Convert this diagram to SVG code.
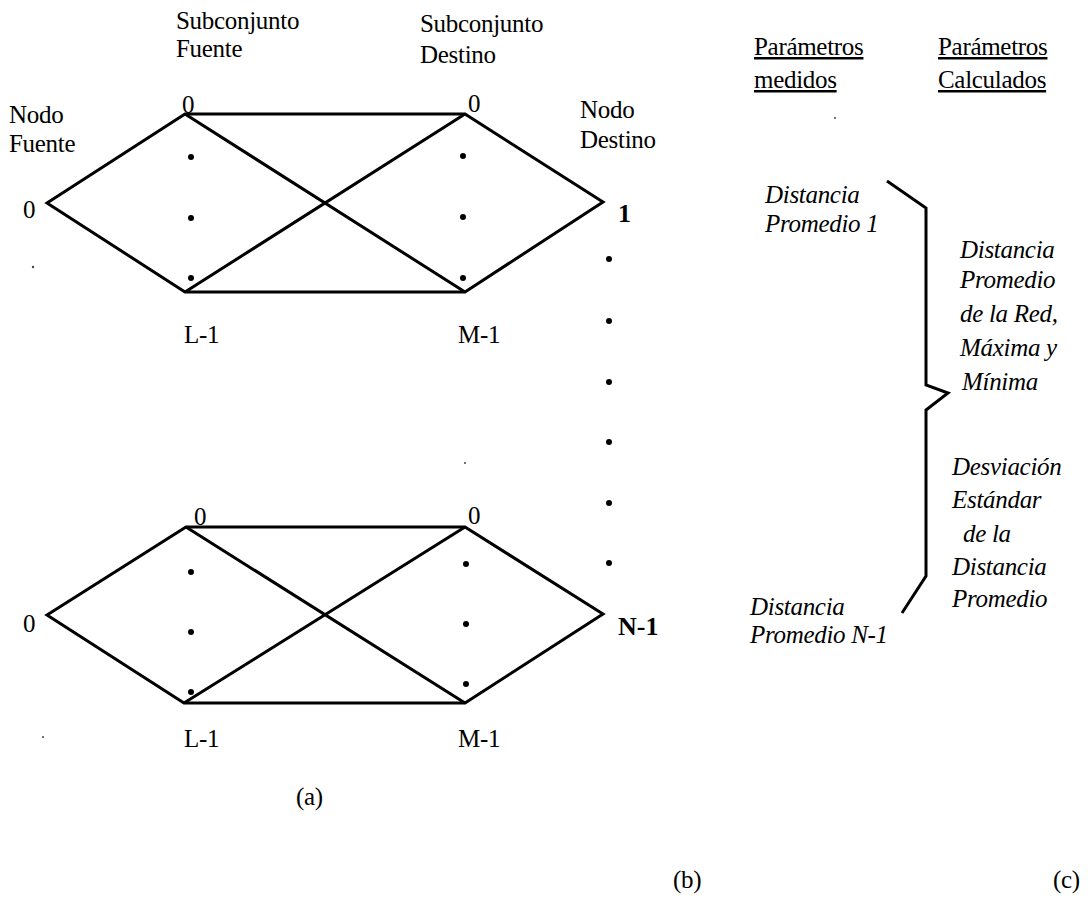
<svg xmlns="http://www.w3.org/2000/svg" width="1088" height="916" viewBox="0 0 1088 916">
  <style>
    text { font-family: "Liberation Serif", "Times New Roman", serif; font-size: 25px; letter-spacing: -0.3px; fill: #000; }
    .it { font-style: italic; }
    .bd { font-weight: bold; font-size: 26px; letter-spacing: 0; }
    .ul { text-decoration: underline; }
    .edge { stroke: #000; stroke-width: 3; fill: none; stroke-linejoin: miter; }
    .dot { fill: #000; }
    .speck { fill: #444; }
  </style>
  <rect width="1088" height="916" fill="#fff"/>

  <!-- connectors: two source/destination subnetworks -->
  <g id="connectors">
    <path class="edge" d="M47,203 L185,114 L465,114 L603,202 L465,292 L185,292 Z"/>
    <path class="edge" d="M185,114 L465,292 M185,292 L465,114"/>
    <path class="edge" d="M47,615 L186,527 L465,527 L603,614 L465,703 L184,703 Z"/>
    <path class="edge" d="M186,527 L465,703 M184,703 L465,527"/>
  </g>

  <!-- column headers -->
  <g id="hdr-src">
    <text x="176" y="29">Subconjunto</text>
    <text x="176" y="57">Fuente</text>
  </g>
  <g id="hdr-dst">
    <text x="420" y="32">Subconjunto</text>
    <text x="420" y="63">Destino</text>
  </g>
  <g id="hdr-nodo-fuente">
    <text x="9" y="123">Nodo</text>
    <text x="9" y="152">Fuente</text>
  </g>
  <g id="hdr-nodo-destino">
    <text x="580" y="118">Nodo</text>
    <text x="580" y="148">Destino</text>
  </g>

  <!-- upper network nodes -->
  <g id="net1-src"><text x="23" y="218">0</text></g>
  <g id="net1-l">
    <text x="182" y="113">0</text>
    <circle class="dot" cx="191" cy="157" r="3"/>
    <circle class="dot" cx="191" cy="218" r="3"/>
    <circle class="dot" cx="191" cy="278" r="3"/>
    <text x="184" y="343">L-1</text>
  </g>
  <g id="net1-m">
    <text x="468" y="112">0</text>
    <circle class="dot" cx="463" cy="156" r="3"/>
    <circle class="dot" cx="463" cy="217" r="3"/>
    <circle class="dot" cx="463" cy="278" r="3"/>
    <text x="458" y="343">M-1</text>
  </g>
  <g id="net1-dst"><text class="bd" x="618" y="222">1</text></g>

  <!-- dots between destination nodes -->
  <g id="dst-ellipsis">
    <circle class="dot" cx="609" cy="259" r="3"/>
    <circle class="dot" cx="609" cy="321" r="3"/>
    <circle class="dot" cx="609" cy="382" r="3"/>
    <circle class="dot" cx="609" cy="442" r="3"/>
    <circle class="dot" cx="609" cy="503" r="3"/>
    <circle class="dot" cx="609" cy="563" r="3"/>
  </g>

  <!-- lower network nodes -->
  <g id="net2-src"><text x="23" y="632">0</text></g>
  <g id="net2-l">
    <text x="194" y="525">0</text>
    <circle class="dot" cx="191" cy="572" r="3"/>
    <circle class="dot" cx="191" cy="632" r="3"/>
    <circle class="dot" cx="191" cy="692" r="3"/>
    <text x="184" y="747">L-1</text>
  </g>
  <g id="net2-m">
    <text x="468" y="524">0</text>
    <circle class="dot" cx="466" cy="564" r="3"/>
    <circle class="dot" cx="466" cy="624" r="3"/>
    <circle class="dot" cx="466" cy="684" r="3"/>
    <text x="458" y="747">M-1</text>
  </g>
  <g id="net2-dst"><text class="bd" x="618" y="635">N-1</text></g>

  <!-- parameter columns -->
  <g id="hdr-medidos">
    <text class="ul" x="754" y="55">Parámetros</text>
    <text class="ul" x="754" y="88">medidos</text>
  </g>
  <g id="hdr-calculados">
    <text class="ul" x="938" y="55">Parámetros</text>
    <text class="ul" x="938" y="88">Calculados</text>
  </g>
  <g id="medido-1">
    <text class="it" x="765" y="203">Distancia</text>
    <text class="it" x="765" y="232">Promedio 1</text>
  </g>
  <g id="medido-n">
    <text class="it" x="750" y="615">Distancia</text>
    <text class="it" x="750" y="643">Promedio N-1</text>
  </g>
  <g id="brace">
    <path class="edge" d="M887,181 L926,208 L926,385 L948,393 L926,410 L926,576 L902,613"/>
  </g>
  <g id="calc-distancia">
    <text class="it" x="960" y="258">Distancia</text>
    <text class="it" x="960" y="288">Promedio</text>
    <text class="it" x="960" y="322">de la Red,</text>
    <text class="it" x="960" y="356">Máxima y</text>
    <text class="it" x="962" y="390">Mínima</text>
  </g>
  <g id="calc-desviacion">
    <text class="it" x="952" y="475">Desviación</text>
    <text class="it" x="952" y="508">Estándar</text>
    <text class="it" x="963" y="542">de  la</text>
    <text class="it" x="952" y="575">Distancia</text>
    <text class="it" x="952" y="607">Promedio</text>
  </g>

  <!-- panel captions -->
  <g id="captions">
    <text x="296" y="805">(a)</text>
    <text x="673" y="888">(b)</text>
    <text x="1053" y="888">(c)</text>
  </g>

  <!-- small specks -->
  <g id="specks">
    <circle class="speck" cx="33" cy="267" r="1.2"/>
    <circle class="speck" cx="835" cy="118" r="1"/>
    <circle class="speck" cx="43" cy="737" r="1"/>
    <circle class="speck" cx="465" cy="463" r="1"/>
  </g>
</svg>
